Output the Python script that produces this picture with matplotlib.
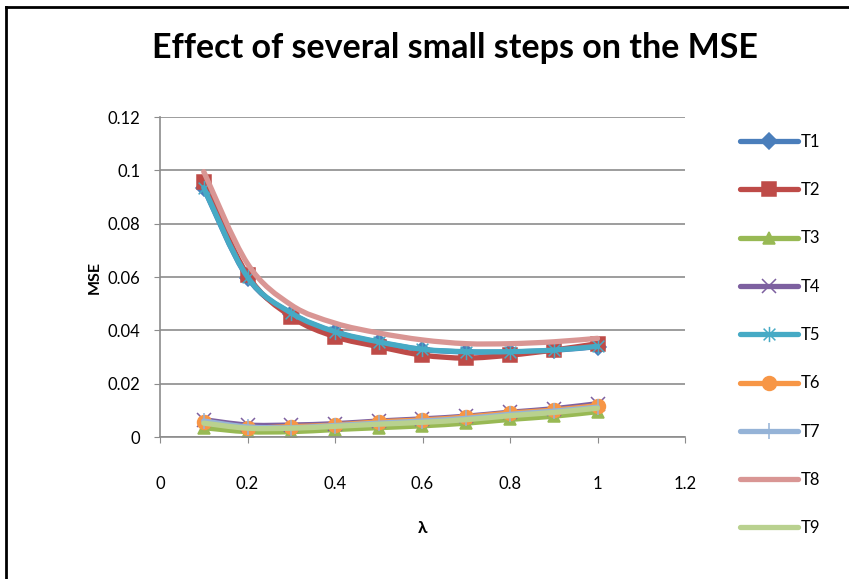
import matplotlib

matplotlib.use("Agg")
import matplotlib.pyplot as plt
import numpy as np
from matplotlib.lines import Line2D
from matplotlib.patches import PathPatch
from matplotlib.path import Path

plt.rcParams["font.family"] = ["Lato", "DejaVu Sans"]

lam = [0.1, 0.2, 0.3, 0.4, 0.5, 0.6, 0.7, 0.8, 0.9, 1.0]

t1 = [0.0933, 0.0598, 0.0463, 0.0393, 0.0355, 0.0328, 0.0319, 0.0319, 0.0325, 0.0339]
t2 = [0.0957, 0.0607, 0.0451, 0.0376, 0.0339, 0.0307, 0.0296, 0.0307, 0.0326, 0.0350]
t3 = [0.0035, 0.0020, 0.0020, 0.0028, 0.0035, 0.0042, 0.0052, 0.0066, 0.0078, 0.0095]
t4 = [0.0065, 0.0045, 0.0045, 0.0050, 0.0060, 0.0068, 0.0078, 0.0093, 0.0106, 0.0125]
t5 = [0.0935, 0.0600, 0.0465, 0.0395, 0.0357, 0.0329, 0.0320, 0.0320, 0.0326, 0.0340]
t6 = [0.0055, 0.0035, 0.0039, 0.0045, 0.0057, 0.0064, 0.0075, 0.0090, 0.0101, 0.0118]
t7 = [0.0060, 0.0038, 0.0035, 0.0043, 0.0052, 0.0060, 0.0070, 0.0085, 0.0097, 0.0112]
t8 = [0.0995, 0.0650, 0.0495, 0.0427, 0.0390, 0.0364, 0.0350, 0.0350, 0.0357, 0.0370]
t9 = [0.0052, 0.0033, 0.0033, 0.0040, 0.0048, 0.0055, 0.0065, 0.0080, 0.0092, 0.0108]

names = ["T1", "T2", "T3", "T4", "T5", "T6", "T7", "T8", "T9"]
series = [t1, t2, t3, t4, t5, t6, t7, t8, t9]
colors = ["#4A7EBB", "#BE4B48", "#98B954", "#7D60A0", "#46AAC5",
          "#F79646", "#95B3D7", "#D99694", "#B9D18F"]

# asterisk marker: an X with a vertical stroke through it
star = Path([(-1, -1), (1, 1), (-1, 1), (1, -1), (0, -1.3), (0, 1.3)],
            [Path.MOVETO, Path.LINETO] * 3)
markers = ["D", "s", "^", "x", star, "o", "|", None, None]
msizes = [8, 10, 9, 10, 11, 10, 12, 0, 0]


def smooth_path(x, y):
    """Bezier path through the points, Catmull-Rom style (tension 1/6)."""
    pts = np.column_stack([x, y])
    n = len(pts)
    verts = [pts[0]]
    codes = [Path.MOVETO]
    for i in range(n - 1):
        p0 = pts[max(i - 1, 0)]
        p1 = pts[i]
        p2 = pts[i + 1]
        p3 = pts[min(i + 2, n - 1)]
        verts += [p1 + (p2 - p0) / 6, p2 - (p3 - p1) / 6, p2]
        codes += [Path.CURVE4] * 3
    return Path(verts, codes)


fig = plt.figure(figsize=(8.49, 5.79), dpi=100)
ax = fig.add_axes([160 / 849, 1 - 437 / 579, 525 / 849, 320 / 579])

handles = []
for name, ys, c, m, ms in zip(names, series, colors, markers, msizes):
    ax.add_patch(PathPatch(smooth_path(lam, ys), fill=False, edgecolor=c,
                           lw=3.8, capstyle="round", joinstyle="round",
                           zorder=2))
    if m is not None:
        ax.plot(lam, ys, linestyle="none", marker=m, markersize=ms,
                color=c, markeredgecolor=c, markeredgewidth=1.1, zorder=2)
    handles.append(Line2D([], [], color=c, lw=3.8, marker=m, markersize=ms,
                          markeredgecolor=c, markeredgewidth=1.1,
                          solid_capstyle="round"))

ax.set_xlim(0, 1.2)
ax.set_ylim(0, 0.12)
ax.set_xticks(np.arange(0, 1.21, 0.2))
ax.set_xticklabels(["0", "0.2", "0.4", "0.6", "0.8", "1", "1.2"])
ax.set_yticks(np.arange(0, 0.121, 0.02))
ax.set_yticklabels(["0", "0.02", "0.04", "0.06", "0.08", "0.1", "0.12"])
ax.yaxis.grid(True, color="#8C8C8C", lw=1.2)
ax.set_axisbelow(True)
for side in ["top", "right"]:
    ax.spines[side].set_visible(False)
for side in ["left", "bottom"]:
    ax.spines[side].set_color("#8C8C8C")
    ax.spines[side].set_linewidth(1.2)
ax.tick_params(axis="y", length=4, color="#8C8C8C", pad=10, labelsize=12)
ax.tick_params(axis="x", length=4, color="#8C8C8C", pad=24, labelsize=12)

ax.set_xlabel("λ", fontsize=12.5, fontweight="bold", labelpad=20)
ax.set_ylabel("MSE", fontsize=11.5, fontweight="bold")
ax.yaxis.set_label_coords(-0.11, 0.5)
fig.text(455 / 849, 1 - 48 / 579, "Effect of several small steps on the MSE",
         ha="center", va="center", fontsize=24.5, fontweight="bold")

fig.legend(handles, names, loc="upper left",
           bbox_to_anchor=(733 / 849, 1 - 127 / 579), frameon=False,
           fontsize=12, handlelength=3.5, handletextpad=0.15,
           labelspacing=1.94, borderaxespad=0)

# chart frame
fig.add_artist(Line2D([6 / 849, 6 / 849], [0, 1 - 7 / 579], color="black",
                      lw=2, transform=fig.transFigure))
fig.add_artist(Line2D([6 / 849, 1], [1 - 7 / 579, 1 - 7 / 579], color="black",
                      lw=2, transform=fig.transFigure))

fig.savefig("out.png", dpi=100)
